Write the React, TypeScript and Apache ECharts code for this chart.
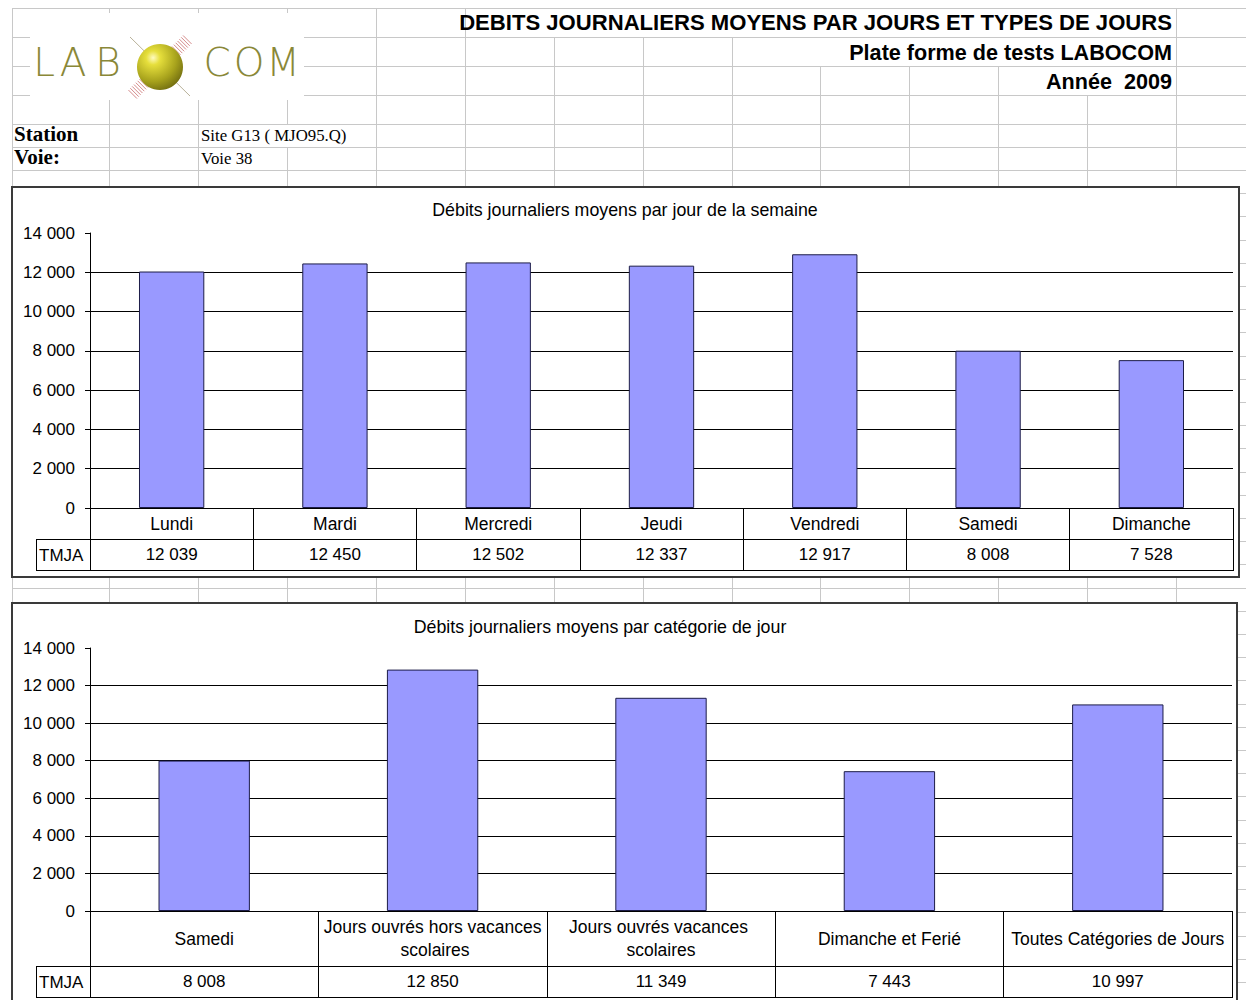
import React, { useEffect, useRef } from "react";
import * as echarts from "echarts";

// ---------- DATA ----------
const weekDays = ["Lundi", "Mardi", "Mercredi", "Jeudi", "Vendredi", "Samedi", "Dimanche"];
const weekValues = [12039, 12450, 12502, 12337, 12917, 8008, 7528];
const dayTypes = [
  "Samedi",
  "Jours ouvrés hors vacances scolaires",
  "Jours ouvrés vacances scolaires",
  "Dimanche et Ferié",
  "Toutes Catégories de Jours",
];
const dayTypeValues = [8008, 12850, 11349, 7443, 10997];
const yMin = 0;
const yMax = 14000;
const yStep = 2000;
const rowLabel = "TMJA";
const chartTitles = [
  "Débits journaliers moyens par jour de la semaine",
  "Débits journaliers moyens par catégorie de jour",
];
const headerLines = [
  "DEBITS JOURNALIERS MOYENS PAR JOURS ET TYPES DE JOURS",
  "Plate forme de tests LABOCOM",
  "Année  2009",
];
const infoLabels = ["Station", "Voie:"];
const infoValues = ["Site G13 ( MJO95.Q)", "Voie 38"];
const logoLeft = ["L", "A", "B"];
const logoRight = ["C", "O", "M"];

// ---------- STYLE / LAYOUT ----------
const W = 1246;
const H = 1000;
const FONT = '"Liberation Sans", Arial, sans-serif';
const SERIF = '"Liberation Serif", "Times New Roman", serif';
const GRIDC = "#c8c8c8";
const FS = 17;
const FS_CAT = 17.5;
const FS_TITLE = 17.8;

function fmt(n: number): string {
  return String(n).replace(/\B(?=(\d{3})+(?!\d))/g, " ");
}

type Panel = {
  cats: string[];
  vals: number[];
  left: number;
  right: number;
  top: number;
  bottom: number;
  row1: number;
  row2: number;
  box: number[];
  title: string;
  titleX: number;
  titleY: number;
};

const panels: Panel[] = [
  {
    cats: weekDays,
    vals: weekValues,
    left: 90,
    right: 1233,
    top: 233,
    bottom: 508,
    row1: 539,
    row2: 570,
    box: [12, 187, 1239, 577],
    title: chartTitles[0],
    titleX: 625,
    titleY: 210,
  },
  {
    cats: dayTypes,
    vals: dayTypeValues,
    left: 90,
    right: 1232,
    top: 648,
    bottom: 911,
    row1: 966,
    row2: 997,
    box: [12, 603, 1237, 1012],
    title: chartTitles[1],
    titleX: 600,
    titleY: 627,
  },
];

const colX = [12, 109, 198, 287, 376, 465, 554, 643, 732, 820, 909, 998, 1087, 1176];
const headRows = [8, 37, 66, 95, 124, 147, 170];

function line(x1: number, y1: number, x2: number, y2: number, stroke: string, z: number, lw = 1) {
  return {
    type: "line",
    z,
    silent: true,
    shape: { x1, y1, x2, y2 },
    style: { stroke, lineWidth: lw },
  };
}

function text(
  t: string,
  x: number,
  y: number,
  opts: { size: number; family?: string; weight?: string | number; align?: string; color?: string },
  z = 20
) {
  return {
    type: "text",
    z,
    silent: true,
    x,
    y,
    style: {
      text: t,
      fill: opts.color || "#000",
      fontSize: opts.size,
      fontFamily: opts.family || FONT,
      fontWeight: opts.weight || "normal",
      align: opts.align || "left",
      verticalAlign: "middle",
      textAlign: opts.align || "left",
      textVerticalAlign: "middle",
    },
  };
}

function buildGraphic(): any[] {
  const g: any[] = [];
  // spreadsheet horizontal rows
  const rows: number[] = [...headRows];
  for (let k = 1; 170 + k * 23.2 < H; k++) rows.push(Math.round(170 + k * 23.2));
  rows.forEach((y) => g.push(line(12, y + 0.5, W, y + 0.5, GRIDC, -20)));
  // spreadsheet vertical columns (segments, merged/overflow cells skipped)
  colX.forEach((x) => {
    const xx = x + 0.5;
    if (!(x > 465 && x < 1176)) g.push(line(xx, 8, xx, 37, GRIDC, -20));
    if (!(x > 732 && x < 1176)) g.push(line(xx, 37, xx, 66, GRIDC, -20));
    if (!(x > 998 && x < 1176)) g.push(line(xx, 66, xx, 95, GRIDC, -20));
    g.push(line(xx, 95, xx, 124, GRIDC, -20));
    if (x !== 287) g.push(line(xx, 124, xx, 147, GRIDC, -20));
    g.push(line(xx, 147, xx, H, GRIDC, -20));
  });

  // logo
  g.push({
    type: "rect",
    z: -15,
    silent: true,
    shape: { x: 30, y: 13, width: 274, height: 87 },
    style: { fill: "#fff" },
  });
  const cx = 160;
  const cy = 67;
  g.push(line(130, 37, 190, 96, "#b9b29a", -14, 1));
  const s2 = Math.SQRT1_2;
  for (const sign of [1, -1]) {
    for (let t = 23; t <= 39; t += 2.6) {
      const px = cx + sign * t * s2;
      const py = cy - sign * t * s2;
      g.push(line(px - 6 * s2, py - 6 * s2, px + 6 * s2, py + 6 * s2, "#d48a8a", -14, 1));
    }
  }
  g.push({
    type: "circle",
    z: -13,
    silent: true,
    shape: { cx, cy, r: 23 },
    style: {
      fill: {
        type: "radial",
        x: 0.35,
        y: 0.3,
        r: 0.85,
        colorStops: [
          { offset: 0, color: "#fffbc0" },
          { offset: 0.18, color: "#e6df3c" },
          { offset: 0.6, color: "#a7a21c" },
          { offset: 1, color: "#5e5a0c" },
        ],
      },
    },
  });
  const lx = [44, 73, 108];
  const rx = [217, 249, 283];
  const logoStyle = {
    size: 39,
    family: '"DejaVu Sans", sans-serif',
    weight: 200,
    color: "#8a8838",
    align: "center",
  };
  logoLeft.forEach((c, i) => g.push(text(c, lx[i], 62, logoStyle, -12)));
  logoRight.forEach((c, i) => g.push(text(c, rx[i], 62, logoStyle, -12)));

  // header texts
  const hy = [22, 52, 81];
  headerLines.forEach((t, i) =>
    g.push(text(t, 1172, hy[i], { size: i === 0 ? 22.1 : 21.6, weight: "bold", align: "right" }))
  );
  // station info
  const iy = [134, 157];
  infoLabels.forEach((t, i) => g.push(text(t, 14, iy[i], { size: 21, family: SERIF, weight: "bold" })));
  infoValues.forEach((t, i) => g.push(text(t, 201, iy[i] + 1, { size: 16.8, family: SERIF })));

  // chart panels
  panels.forEach((p) => {
    const [bx1, by1, bx2, by2] = p.box;
    g.push({
      type: "rect",
      z: -10,
      silent: true,
      shape: { x: bx1, y: by1, width: bx2 - bx1, height: by2 - by1 },
      style: { fill: "#fff", stroke: "#3a3a3a", lineWidth: 2 },
    });
    g.push(text(p.title, p.titleX, p.titleY, { size: FS_TITLE, align: "center" }));
    const lc = "#000";
    g.push(line(36, p.row1 + 0.5, p.left, p.row1 + 0.5, lc, 10));
    g.push(line(36, p.row2 + 0.5, p.right + 0.5, p.row2 + 0.5, lc, 10));
    g.push(line(36.5, p.row1, 36.5, p.row2 + 1, lc, 10));
    g.push(line(p.left + 0.5, p.bottom, p.left + 0.5, p.row2 + 1, lc, 10));
    g.push(line(p.right + 0.5, p.bottom, p.right + 0.5, p.row2 + 1, lc, 10));
    g.push(text(rowLabel, 39, (p.row1 + p.row2) / 2 + 1, { size: FS }));
  });
  return g;
}

function buildOption(): any {
  const grid: any[] = [];
  const xAxis: any[] = [];
  const yAxis: any[] = [];
  const series: any[] = [];
  panels.forEach((p, i) => {
    const bandW = (p.right - p.left) / p.cats.length;
    grid.push({ left: p.left, top: p.top, width: p.right - p.left, height: p.bottom - p.top });
    yAxis.push({
      gridIndex: i,
      type: "value",
      min: yMin,
      max: yMax,
      interval: yStep,
      axisLine: { show: true, lineStyle: { color: "#000", width: 1 } },
      axisTick: { show: true, length: 5, lineStyle: { color: "#000" } },
      splitLine: { show: true, showMaxLine: false, lineStyle: { color: "#000", width: 1 } },
      axisLabel: {
        color: "#000",
        fontSize: FS,
        fontFamily: FONT,
        margin: 15,
        formatter: (v: number) => fmt(v),
      },
    });
    const r1 = p.row1 - p.bottom;
    const r2 = p.row2 - p.row1;
    xAxis.push({
      gridIndex: i,
      type: "category",
      data: p.cats,
      position: "bottom",
      axisLine: { show: true, lineStyle: { color: "#000", width: 1 } },
      axisTick: { show: true, interval: 0, length: p.row2 - p.bottom, lineStyle: { color: "#000" } },
      splitLine: { show: false },
      axisLabel: {
        interval: 0,
        color: "#000",
        fontSize: FS_CAT,
        fontFamily: FONT,
        margin: r1 / 2,
        verticalAlign: "middle",
        align: "center",
        width: bandW + 2,
        overflow: "break",
        lineHeight: 23,
      },
    });
    xAxis.push({
      gridIndex: i,
      type: "category",
      data: p.cats,
      position: "bottom",
      offset: r1,
      axisLine: { show: true, lineStyle: { color: "#000", width: 1 } },
      axisTick: { show: false },
      splitLine: { show: false },
      axisLabel: {
        interval: 0,
        color: "#000",
        fontSize: FS,
        fontFamily: FONT,
        margin: r2 / 2,
        verticalAlign: "middle",
        align: "center",
        formatter: (_v: string, idx: number) => fmt(p.vals[idx]),
      },
    });
    series.push({
      type: "bar",
      xAxisIndex: i * 2,
      yAxisIndex: i,
      data: p.vals,
      barWidth: "40%",
      itemStyle: { color: "#9999FF", borderColor: "#1c1c48", borderWidth: 1 },
      label: { show: false },
    });
  });
  return {
    animation: false,
    backgroundColor: "#ffffff",
    grid,
    xAxis,
    yAxis,
    series,
    graphic: { elements: buildGraphic() },
  };
}

export default function App() {
  const ref = useRef<HTMLDivElement | null>(null);
  useEffect(() => {
    if (!ref.current) return;
    const chart = echarts.init(ref.current, undefined, { renderer: "svg", width: W, height: H });
    chart.setOption(buildOption());
    return () => chart.dispose();
  }, []);
  return (
    <div
      ref={ref}
      style={{ position: "fixed", left: 0, top: 0, width: W, height: H, background: "#fff" }}
    />
  );
}
